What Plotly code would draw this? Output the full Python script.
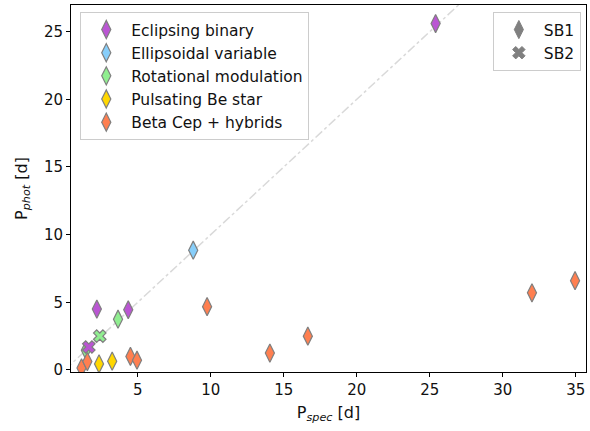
import plotly.graph_objects as go

# Spectroscopic vs photometric periods (days), grouped by variability class
classes = ["Eclipsing binary", "Ellipsoidal variable", "Rotational modulation",
           "Pulsating Be star", "Beta Cep + hybrids"]
colors = ["#ba55d3", "#87cefa", "#90ee90", "#ffd700", "#ff7f50"]

# SB1 systems
sb1_pspec = [
    [25.4, 2.2, 4.35],
    [8.8],
    [3.65, 1.45],
    [2.35, 3.25],
    [1.15, 1.55, 4.5, 4.95, 9.75, 14.05, 16.65, 32.0, 34.95],
]
sb1_pphot = [
    [25.6, 4.5, 4.45],
    [8.85],
    [3.75, 1.45],
    [0.45, 0.65],
    [0.15, 0.62, 1.0, 0.72, 4.68, 1.25, 2.5, 5.7, 6.6],
]

# SB2 systems
sb2_pspec = [[1.65], [], [2.4], [], []]
sb2_pphot = [[1.7], [], [2.5], [], []]

one_to_one = [0.0, 30.0]

fig = go.Figure()

fig.add_trace(go.Scatter(
    x=one_to_one, y=one_to_one, mode="lines",
    line=dict(color="#d9d9d9", width=1.5, dash="dashdot"),
    showlegend=False, hoverinfo="skip",
))

edge = dict(color="#7f7f7f", width=1.2)
dsize = 13
xsize = 11

for name, col, xs, ys in zip(classes, colors, sb1_pspec, sb1_pphot):
    fig.add_trace(go.Scatter(
        x=xs, y=ys, mode="markers", name=name,
        marker=dict(symbol="diamond-tall", size=dsize, color=col, line=edge),
        legend="legend",
    ))

for name, col, xs, ys in zip(classes, colors, sb2_pspec, sb2_pphot):
    if xs:
        fig.add_trace(go.Scatter(
            x=xs, y=ys, mode="markers", name=name,
            marker=dict(symbol="x", size=xsize, color=col, line=edge),
            showlegend=False,
        ))

# Binary-type key
fig.add_trace(go.Scatter(
    x=[None], y=[None], mode="markers", name="SB1",
    marker=dict(symbol="diamond-tall", size=dsize, color="#808080",
                line=dict(color="#808080", width=1)),
    legend="legend2",
))
fig.add_trace(go.Scatter(
    x=[None], y=[None], mode="markers", name="SB2",
    marker=dict(symbol="x", size=xsize, color="#808080",
                line=dict(color="#808080", width=1)),
    legend="legend2",
))

font = "DejaVu Sans"
axis_common = dict(
    showgrid=False, zeroline=False, showline=True, mirror=True,
    linecolor="black", linewidth=1, ticks="outside", ticklen=4,
    tickcolor="black", tickfont=dict(size=15, color="#111"),
)

fig.update_layout(
    width=590, height=431,
    margin=dict(l=71, r=4, t=5, b=59),
    plot_bgcolor="white", paper_bgcolor="white",
    font=dict(family=font, size=15, color="#111"),
    xaxis=dict(range=[0.43, 35.7], tickvals=[5, 10, 15, 20, 25, 30, 35],
               title=dict(text="P<sub><i>spec</i></sub> [d]", font=dict(size=16), standoff=8),
               **axis_common),
    yaxis=dict(range=[-0.15, 26.97], tickvals=[0, 5, 10, 15, 20, 25],
               title=dict(text="P<sub><i>phot</i></sub> [d]", font=dict(size=16), standoff=12),
               **axis_common),
    legend=dict(x=0.018, y=0.981, xanchor="left", yanchor="top",
                bgcolor="white", bordercolor="#cccccc", borderwidth=1,
                font=dict(size=15.5), tracegroupgap=0, itemwidth=40),
    legend2=dict(x=0.99, y=0.981, xanchor="right", yanchor="top",
                 bgcolor="white", bordercolor="#cccccc", borderwidth=1,
                 font=dict(size=15.5), itemwidth=40),
)

fig.write_html("out.html")
